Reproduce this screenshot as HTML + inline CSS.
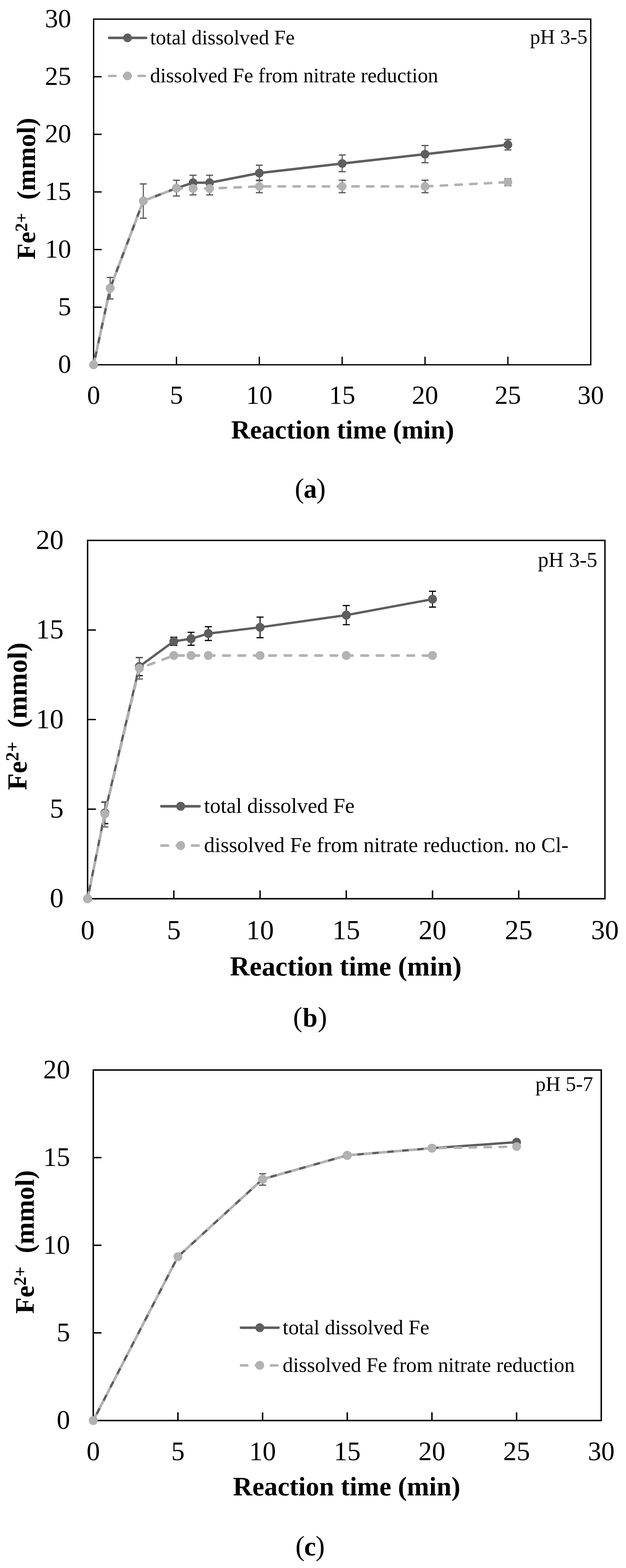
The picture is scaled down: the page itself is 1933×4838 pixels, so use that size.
<!DOCTYPE html>
<html lang="en"><head><meta charset="utf-8"><title>Dissolved Fe versus reaction time</title>
<style>html,body{margin:0;padding:0;background:#fff}body{width:1933px;height:4838px;overflow:hidden}svg{display:block}text{font-family:'Liberation Serif', 'DejaVu Serif', serif;fill:#000}</style>
</head><body>
<svg width="1933" height="4838" viewBox="0 0 1933 4838">
<rect width="1933" height="4838" fill="#fff"/>
<g>
<path d="M289.05 59.05H1824.15V1125.5H289.05ZM544.9 1125.5v-25M800.75 1125.5v-25M1056.6 1125.5v-25M1312.45 1125.5v-25M1568.3 1125.5v-25M289.05 947.76h25M289.05 770.02h25M289.05 592.27h25M289.05 414.53h25M289.05 236.79h25" fill="none" stroke="#000" stroke-width="4.1"/>
<g font-size="81.3" text-anchor="middle">
<text x="289.05" y="1246">0</text>
<text x="544.9" y="1246">5</text>
<text x="800.75" y="1246">10</text>
<text x="1056.6" y="1246">15</text>
<text x="1312.45" y="1246">20</text>
<text x="1568.3" y="1246">25</text>
<text x="1824.15" y="1246">30</text>
</g>
<g font-size="81.3" text-anchor="end">
<text x="220" y="1150.3">0</text>
<text x="220" y="972.56">5</text>
<text x="220" y="794.82">10</text>
<text x="220" y="617.07">15</text>
<text x="220" y="439.33">20</text>
<text x="220" y="261.59">25</text>
<text x="220" y="83.85">30</text>
</g>
<text x="1058" y="1352.8" font-size="81" font-weight="bold" text-anchor="middle">Reaction time (min)</text>
<text transform="translate(108.3,582.1) rotate(-90)" font-size="81.3" font-weight="bold" text-anchor="middle" xml:space="preserve">Fe<tspan font-size="54.1" dy="-23.9">2+</tspan><tspan dy="23.9" xml:space="preserve">  (mmol)</tspan></text>
<text x="1814" y="135.1" font-size="63.3" text-anchor="end">pH 3-5</text>
<path d="M340.22 856.04V922.52" fill="none" stroke="#5e5e5e" stroke-width="3.5"/><path d="M329.52 856.04h21.4M329.52 922.52h21.4" fill="none" stroke="#5e5e5e" stroke-width="4"/>
<path d="M442.56 567.39V673.33" fill="none" stroke="#5e5e5e" stroke-width="3.5"/><path d="M431.86 567.39h21.4M431.86 673.33h21.4" fill="none" stroke="#5e5e5e" stroke-width="4"/>
<path d="M544.9 556.37V604.72" fill="none" stroke="#5e5e5e" stroke-width="3.5"/><path d="M534.2 556.37h21.4M534.2 604.72h21.4" fill="none" stroke="#5e5e5e" stroke-width="4"/>
<path d="M596.07 540.73V586.94" fill="none" stroke="#5e5e5e" stroke-width="3.5"/><path d="M585.37 540.73h21.4M585.37 586.94h21.4" fill="none" stroke="#5e5e5e" stroke-width="4"/>
<path d="M647.24 540.73V586.94" fill="none" stroke="#5e5e5e" stroke-width="3.5"/><path d="M636.54 540.73h21.4M636.54 586.94h21.4" fill="none" stroke="#5e5e5e" stroke-width="4"/>
<path d="M800.75 509.8V557.44" fill="none" stroke="#5e5e5e" stroke-width="3.5"/><path d="M790.05 509.8h21.4M790.05 557.44h21.4" fill="none" stroke="#5e5e5e" stroke-width="4"/>
<path d="M1056.6 478.16V529.71" fill="none" stroke="#5e5e5e" stroke-width="3.5"/><path d="M1045.9 478.16h21.4M1045.9 529.71h21.4" fill="none" stroke="#5e5e5e" stroke-width="4"/>
<path d="M1312.45 449.02V501.98" fill="none" stroke="#5e5e5e" stroke-width="3.5"/><path d="M1301.75 449.02h21.4M1301.75 501.98h21.4" fill="none" stroke="#5e5e5e" stroke-width="4"/>
<path d="M1568.3 430.53V462.52" fill="none" stroke="#5e5e5e" stroke-width="3.5"/><path d="M1557.6 430.53h21.4M1557.6 462.52h21.4" fill="none" stroke="#5e5e5e" stroke-width="4"/>
<polyline points="289.05,1125.5 340.22,889.1 442.56,620 544.9,580.54 596.07,563.84 647.24,563.84 800.75,533.98 1056.6,504.47 1312.45,475.68 1568.3,446.53" fill="none" stroke="#5e5e5e" stroke-width="7.5" stroke-linejoin="round" stroke-linecap="round"/>
<g fill="#5e5e5e"><circle cx="289.05" cy="1125.5" r="13.5"/><circle cx="340.22" cy="889.1" r="13.5"/><circle cx="442.56" cy="620" r="13.5"/><circle cx="544.9" cy="580.54" r="13.5"/><circle cx="596.07" cy="563.84" r="13.5"/><circle cx="647.24" cy="563.84" r="13.5"/><circle cx="800.75" cy="533.98" r="13.5"/><circle cx="1056.6" cy="504.47" r="13.5"/><circle cx="1312.45" cy="475.68" r="13.5"/><circle cx="1568.3" cy="446.53" r="13.5"/></g>
<path d="M596.07 562.06V601.16" fill="none" stroke="#5e5e5e" stroke-width="3.5"/><path d="M585.37 562.06h21.4M585.37 601.16h21.4" fill="none" stroke="#5e5e5e" stroke-width="4"/>
<path d="M647.24 562.06V601.16" fill="none" stroke="#5e5e5e" stroke-width="3.5"/><path d="M636.54 562.06h21.4M636.54 601.16h21.4" fill="none" stroke="#5e5e5e" stroke-width="4"/>
<path d="M800.75 556.02V594.41" fill="none" stroke="#5e5e5e" stroke-width="3.5"/><path d="M790.05 556.02h21.4M790.05 594.41h21.4" fill="none" stroke="#5e5e5e" stroke-width="4"/>
<path d="M1056.6 556.02V594.41" fill="none" stroke="#5e5e5e" stroke-width="3.5"/><path d="M1045.9 556.02h21.4M1045.9 594.41h21.4" fill="none" stroke="#5e5e5e" stroke-width="4"/>
<path d="M1312.45 556.02V594.41" fill="none" stroke="#5e5e5e" stroke-width="3.5"/><path d="M1301.75 556.02h21.4M1301.75 594.41h21.4" fill="none" stroke="#5e5e5e" stroke-width="4"/>
<path d="M1568.3 551.39V572.72" fill="none" stroke="#5e5e5e" stroke-width="3.5"/><path d="M1557.6 551.39h21.4M1557.6 572.72h21.4" fill="none" stroke="#5e5e5e" stroke-width="4"/>
<polyline points="289.05,1125.5 340.22,889.1 442.56,620 544.9,580.54 596.07,581.61 647.24,581.61 800.75,575.21 1056.6,575.21 1312.45,575.21 1568.3,562.06" fill="none" stroke="#b2b2b2" stroke-width="7.4" stroke-linejoin="round" stroke-linecap="round" stroke-dasharray="19.9 25.6" stroke-dashoffset="0.5"/>
<polyline points="289.05,1125.5 340.22,889.1 442.56,620 544.9,580.54 596.07,581.61 647.24,581.61 800.75,575.21 1056.6,575.21 1312.45,575.21 1568.3,562.06" fill="none" stroke="#b2b2b2" stroke-width="7.4" stroke-linejoin="round" stroke-dasharray="24.5 21" stroke-dashoffset="2.8"/>
<g fill="#b2b2b2"><circle cx="289.05" cy="1125.5" r="13.5"/><circle cx="340.22" cy="889.1" r="13.5"/><circle cx="442.56" cy="620" r="13.5"/><circle cx="544.9" cy="580.54" r="13.5"/><circle cx="596.07" cy="581.61" r="13.5"/><circle cx="647.24" cy="581.61" r="13.5"/><circle cx="800.75" cy="575.21" r="13.5"/><circle cx="1056.6" cy="575.21" r="13.5"/><circle cx="1312.45" cy="575.21" r="13.5"/><circle cx="1568.3" cy="562.06" r="13.5"/></g>
<line x1="337.1" y1="116.8" x2="451.1" y2="116.8" stroke="#5e5e5e" stroke-width="7.8" stroke-linecap="round"/>
<circle cx="393.8" cy="116.8" r="13.5" fill="#5e5e5e"/>
<text x="463.5" y="137" font-size="63.3">total dissolved Fe</text>
<line x1="336.8" y1="234.3" x2="451.4" y2="234.3" stroke="#b2b2b2" stroke-width="7.2" stroke-linecap="round" stroke-dasharray="20.1 25.4"/>
<line x1="336.8" y1="234.3" x2="451.4" y2="234.3" stroke="#b2b2b2" stroke-width="7.2" stroke-dasharray="24.5 21" stroke-dashoffset="2.2"/>
<circle cx="393.8" cy="234.3" r="13.5" fill="#b2b2b2"/>
<text x="463.5" y="254" font-size="63.3">dissolved Fe from nitrate reduction</text>
<text x="958" y="1536" font-size="86.1" text-anchor="middle">(<tspan font-weight="bold" font-size="82" dx="-1.5">a</tspan><tspan dx="-1.5">)</tspan></text>
</g>
<g>
<path d="M270.5 1667.4H1868V2773H270.5ZM536.75 2773v-25.7M803 2773v-25.7M1069.25 2773v-25.7M1335.5 2773v-25.7M1601.75 2773v-25.7M270.5 2496.6h25.7M270.5 2220.2h25.7M270.5 1943.8h25.7" fill="none" stroke="#000" stroke-width="4.3"/>
<g font-size="85.5" text-anchor="middle">
<text x="270.5" y="2897.8">0</text>
<text x="536.75" y="2897.8">5</text>
<text x="803" y="2897.8">10</text>
<text x="1069.25" y="2897.8">15</text>
<text x="1335.5" y="2897.8">20</text>
<text x="1601.75" y="2897.8">25</text>
<text x="1868" y="2897.8">30</text>
</g>
<g font-size="85.5" text-anchor="end">
<text x="196.5" y="2799.4">0</text>
<text x="196.5" y="2523">5</text>
<text x="196.5" y="2246.6">10</text>
<text x="196.5" y="1970.2">15</text>
<text x="196.5" y="1693.8">20</text>
</g>
<text x="1067.7" y="3009.5" font-size="84.2" font-weight="bold" text-anchor="middle">Reaction time (min)</text>
<text transform="translate(81.6,2210.2) rotate(-90)" font-size="84.7" font-weight="bold" text-anchor="middle" xml:space="preserve">Fe<tspan font-size="56.3" dy="-24.9">2+</tspan><tspan dy="24.9" xml:space="preserve">  (mmol)</tspan></text>
<text x="1844.5" y="1748.5" font-size="65.4" text-anchor="end">pH 3-5</text>
<path d="M323.75 2475.04V2541.38" fill="none" stroke="#000" stroke-width="3.2"/><path d="M312.85 2475.04h21.8M312.85 2541.38h21.8" fill="none" stroke="#000" stroke-width="3.7"/>
<path d="M430.25 2028.93V2084.76" fill="none" stroke="#000" stroke-width="3.2"/><path d="M419.35 2028.93h21.8M419.35 2084.76h21.8" fill="none" stroke="#000" stroke-width="3.7"/>
<path d="M536.75 1966.19V1991.06" fill="none" stroke="#000" stroke-width="3.2"/><path d="M525.85 1966.19h21.8M525.85 1991.06h21.8" fill="none" stroke="#000" stroke-width="3.7"/>
<path d="M590 1950.99V1990.79" fill="none" stroke="#000" stroke-width="3.2"/><path d="M579.1 1950.99h21.8M579.1 1990.79h21.8" fill="none" stroke="#000" stroke-width="3.7"/>
<path d="M643.25 1933.57V1976.14" fill="none" stroke="#000" stroke-width="3.2"/><path d="M632.35 1933.57h21.8M632.35 1976.14h21.8" fill="none" stroke="#000" stroke-width="3.7"/>
<path d="M803 1904V1967.57" fill="none" stroke="#000" stroke-width="3.2"/><path d="M792.1 1904h21.8M792.1 1967.57h21.8" fill="none" stroke="#000" stroke-width="3.7"/>
<path d="M1069.25 1868.34V1927.49" fill="none" stroke="#000" stroke-width="3.2"/><path d="M1058.35 1868.34h21.8M1058.35 1927.49h21.8" fill="none" stroke="#000" stroke-width="3.7"/>
<path d="M1335.5 1824.4V1873.04" fill="none" stroke="#000" stroke-width="3.2"/><path d="M1324.6 1824.4h21.8M1324.6 1873.04h21.8" fill="none" stroke="#000" stroke-width="3.7"/>
<polyline points="270.5,2773 323.75,2508.21 430.25,2056.57 536.75,1978.63 590,1970.89 643.25,1954.86 803,1935.51 1069.25,1897.92 1335.5,1848.72" fill="none" stroke="#5e5e5e" stroke-width="7.1" stroke-linejoin="round" stroke-linecap="round"/>
<g fill="#5e5e5e"><circle cx="270.5" cy="2773" r="13.8"/><circle cx="323.75" cy="2508.21" r="13.8"/><circle cx="430.25" cy="2056.57" r="13.8"/><circle cx="536.75" cy="1978.63" r="13.8"/><circle cx="590" cy="1970.89" r="13.8"/><circle cx="643.25" cy="1954.86" r="13.8"/><circle cx="803" cy="1935.51" r="13.8"/><circle cx="1069.25" cy="1897.92" r="13.8"/><circle cx="1335.5" cy="1848.72" r="13.8"/></g>
<path d="M323.75 2473.94V2551.33" fill="none" stroke="#5e5e5e" stroke-width="3.2"/><path d="M312.85 2473.94h21.8M312.85 2551.33h21.8" fill="none" stroke="#5e5e5e" stroke-width="3.7"/>
<path d="M430.25 2029.48V2095.27" fill="none" stroke="#5e5e5e" stroke-width="3.2"/><path d="M419.35 2029.48h21.8M419.35 2095.27h21.8" fill="none" stroke="#5e5e5e" stroke-width="3.7"/>
<polyline points="270.5,2773 323.75,2511.53 430.25,2062.1 536.75,2022.57 590,2022.57 643.25,2022.57 803,2022.57 1069.25,2022.57 1335.5,2022.57" fill="none" stroke="#b2b2b2" stroke-width="7.7" stroke-linejoin="round" stroke-linecap="round" stroke-dasharray="20.3 27.1" stroke-dashoffset="0.5"/>
<polyline points="270.5,2773 323.75,2511.53 430.25,2062.1 536.75,2022.57 590,2022.57 643.25,2022.57 803,2022.57 1069.25,2022.57 1335.5,2022.57" fill="none" stroke="#b2b2b2" stroke-width="7.7" stroke-linejoin="round" stroke-dasharray="25.2 22.2" stroke-dashoffset="2.95"/>
<g fill="#b2b2b2"><circle cx="270.5" cy="2773" r="13.8"/><circle cx="323.75" cy="2511.53" r="13.8"/><circle cx="430.25" cy="2062.1" r="13.8"/><circle cx="536.75" cy="2022.57" r="13.8"/><circle cx="590" cy="2022.57" r="13.8"/><circle cx="643.25" cy="2022.57" r="13.8"/><circle cx="803" cy="2022.57" r="13.8"/><circle cx="1069.25" cy="2022.57" r="13.8"/><circle cx="1335.5" cy="2022.57" r="13.8"/></g>
<line x1="498.3" y1="2487.7" x2="616" y2="2487.7" stroke="#5e5e5e" stroke-width="8" stroke-linecap="round"/>
<circle cx="557.9" cy="2487.7" r="13.8" fill="#5e5e5e"/>
<text x="630" y="2507.5" font-size="65.9">total dissolved Fe</text>
<line x1="498.2" y1="2608.9" x2="616.1" y2="2608.9" stroke="#b2b2b2" stroke-width="7.8" stroke-linecap="round" stroke-dasharray="20.2 27.2"/>
<line x1="498.2" y1="2608.9" x2="616.1" y2="2608.9" stroke="#b2b2b2" stroke-width="7.8" stroke-dasharray="25.2 22.2" stroke-dashoffset="2.5"/>
<circle cx="557.9" cy="2608.9" r="13.8" fill="#b2b2b2"/>
<text x="630" y="2629.4" font-size="65.9">dissolved Fe from nitrate reduction. no Cl-</text>
<text x="957.5" y="3167" font-size="86.1" text-anchor="middle">(<tspan font-weight="bold" font-size="82" dx="1">b</tspan><tspan dx="1">)</tspan></text>
</g>
<g>
<path d="M288 3301.4H1856.6V4383H288ZM549.43 4383v-25.3M810.87 4383v-25.3M1072.3 4383v-25.3M1333.73 4383v-25.3M1595.17 4383v-25.3M288 4112.6h25.3M288 3842.2h25.3M288 3571.8h25.3" fill="none" stroke="#000" stroke-width="4.5"/>
<g font-size="82.8" text-anchor="middle">
<text x="288" y="4504.5">0</text>
<text x="549.43" y="4504.5">5</text>
<text x="810.87" y="4504.5">10</text>
<text x="1072.3" y="4504.5">15</text>
<text x="1333.73" y="4504.5">20</text>
<text x="1595.17" y="4504.5">25</text>
<text x="1856.6" y="4504.5">30</text>
</g>
<g font-size="82.8" text-anchor="end">
<text x="216.4" y="4408.3">0</text>
<text x="216.4" y="4137.9">5</text>
<text x="216.4" y="3867.5">10</text>
<text x="216.4" y="3597.1">15</text>
<text x="216.4" y="3326.7">20</text>
</g>
<text x="1070.5" y="4613.5" font-size="82.6" font-weight="bold" text-anchor="middle">Reaction time (min)</text>
<text transform="translate(104,3832.1) rotate(-90)" font-size="82.4" font-weight="bold" text-anchor="middle" xml:space="preserve">Fe<tspan font-size="54.8" dy="-24.2">2+</tspan><tspan dy="24.2" xml:space="preserve">  (mmol)</tspan></text>
<text x="1831.4" y="3365.7" font-size="63.5" text-anchor="end">pH 5-7</text>
<path d="M810.87 3621.55V3656.71" fill="none" stroke="#5e5e5e" stroke-width="3.5"/><path d="M800.07 3621.55h21.6M800.07 3656.71h21.6" fill="none" stroke="#5e5e5e" stroke-width="4"/>
<polyline points="288,4383 549.43,3877.35 810.87,3638.32 1072.3,3564.77 1333.73,3542.6 1595.17,3524.21" fill="none" stroke="#5e5e5e" stroke-width="7.2" stroke-linejoin="round" stroke-linecap="round"/>
<g fill="#5e5e5e"><circle cx="288" cy="4383" r="13.6"/><circle cx="549.43" cy="3877.35" r="13.6"/><circle cx="810.87" cy="3638.32" r="13.6"/><circle cx="1072.3" cy="3564.77" r="13.6"/><circle cx="1333.73" cy="3542.6" r="13.6"/><circle cx="1595.17" cy="3524.21" r="13.6"/></g>
<polyline points="288,4383 549.43,3877.35 810.87,3638.32 1072.3,3564.77 1333.73,3542.6 1595.17,3537.73" fill="none" stroke="#b2b2b2" stroke-width="7.4" stroke-linejoin="round" stroke-linecap="round" stroke-dasharray="20.1 26.2" stroke-dashoffset="0.5"/>
<polyline points="288,4383 549.43,3877.35 810.87,3638.32 1072.3,3564.77 1333.73,3542.6 1595.17,3537.73" fill="none" stroke="#b2b2b2" stroke-width="7.4" stroke-linejoin="round" stroke-dasharray="24.7 21.6" stroke-dashoffset="2.8"/>
<g fill="#b2b2b2"><circle cx="288" cy="4383" r="13.6"/><circle cx="549.43" cy="3877.35" r="13.6"/><circle cx="810.87" cy="3638.32" r="13.6"/><circle cx="1072.3" cy="3564.77" r="13.6"/><circle cx="1333.73" cy="3542.6" r="13.6"/><circle cx="1595.17" cy="3537.73" r="13.6"/></g>
<line x1="744" y1="4096.6" x2="860.1" y2="4096.6" stroke="#5e5e5e" stroke-width="7.6" stroke-linecap="round"/>
<circle cx="802.1" cy="4096.6" r="13.6" fill="#5e5e5e"/>
<text x="872.8" y="4117.1" font-size="64.2">total dissolved Fe</text>
<line x1="743.9" y1="4212.7" x2="860.2" y2="4212.7" stroke="#b2b2b2" stroke-width="7.4" stroke-linecap="round" stroke-dasharray="20.1 26.2"/>
<line x1="743.9" y1="4212.7" x2="860.2" y2="4212.7" stroke="#b2b2b2" stroke-width="7.4" stroke-dasharray="24.7 21.6" stroke-dashoffset="2.3"/>
<circle cx="802.1" cy="4212.7" r="13.6" fill="#b2b2b2"/>
<text x="872.8" y="4232.9" font-size="64.2">dissolved Fe from nitrate reduction</text>
<text x="957.5" y="4799" font-size="86.1" text-anchor="middle">(<tspan font-weight="bold" font-size="82" dx="-1.5">c</tspan><tspan dx="-1.5">)</tspan></text>
</g>
</svg></body></html>
